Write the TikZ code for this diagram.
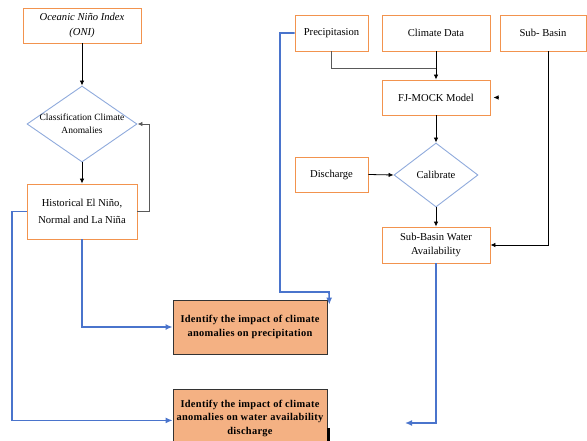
\documentclass[tikz,border=0pt]{standalone}
\usepackage{fontspec}
\setmainfont{Liberation Serif}
\usetikzlibrary{shapes.geometric,arrows.meta}
\definecolor{obord}{HTML}{F2934E}
\definecolor{ofill}{HTML}{F4B183}
\definecolor{bline}{HTML}{4A74CC}
\definecolor{dbord}{HTML}{8FAADC}
\tikzset{
  box/.style={draw=obord, line width=0.9pt, rectangle, inner sep=1pt, align=center, font=\fontsize{10.6}{13.5}\selectfont},
  idbox/.style={draw=black!80, fill=ofill, line width=0.8pt, rectangle, inner sep=1pt, align=center, font=\fontsize{10.4}{13.5}\selectfont\bfseries\addfontfeatures{LetterSpace=3}},
  dia/.style={draw=dbord, line width=0.9pt, diamond, inner sep=0pt},
  lbl/.style={align=center, font=\fontsize{10.6}{13.5}\selectfont},
  blk/.style={draw=black, line width=0.8pt, -{Latex[length=5pt,width=4.5pt]}},
  gry/.style={draw=black!65, line width=0.9pt},
  blu/.style={draw=bline, line width=1.6pt, -{Latex[length=7pt,width=6pt]}},
}
\begin{document}
\begin{tikzpicture}[x=1pt,y=-1pt]
\useasboundingbox (0,0) rectangle (587,441);
% left column
\node[box, minimum width=118pt, minimum height=35pt, font=\fontsize{10.6}{15}\selectfont] (oni) at (82,25.5) {\itshape Oceanic Niño Index\\\itshape (ONI)};
\node[dia, minimum width=110pt, minimum height=76pt] (cls) at (82,124) {};
\node[lbl, font=\fontsize{9.5}{13}\selectfont] (clst) at (cls) {Classification Climate\\Anomalies};
\node[box, minimum width=110pt, minimum height=55pt, font=\fontsize{10.6}{17}\selectfont] (hist) at (82,211.5) {Historical El Niño,\\Normal and La Niña};
\node[idbox, minimum width=154pt, minimum height=54pt] (id1) at (250,327) {Identify the impact of climate\\anomalies on precipitation};
\node[idbox, minimum width=154pt, minimum height=58pt, anchor=north] (id2) at (250,389) {Identify the impact of climate\\anomalies on water availability\\discharge};
\fill[black] (327,428) rectangle (330,441);
% right column
\node[box, minimum width=73pt, minimum height=36pt] (prec) at (331.5,33) {Precipitasion};
\node[box, minimum width=108pt, minimum height=36pt] (clim) at (436,33) {Climate Data};
\node[box, minimum width=86pt, minimum height=36pt] (sb) at (543,33) {Sub- Basin};
\node[box, minimum width=108pt, minimum height=35pt] (fj) at (436,97.5) {FJ-MOCK Model};
\node[dia, minimum width=84pt, minimum height=64pt] (cal) at (436,175) {};
\node[lbl] (calt) at (cal) {Calibrate};
\node[box, minimum width=73pt, minimum height=35pt] (dis) at (331.5,174.5) {Discharge};
\node[box, minimum width=108pt, minimum height=36pt] (sbw) at (436,245) {Sub-Basin Water\\Availability};
% left connectors
\draw[blk] (oni) -- (cls.north);
\draw[blk] (cls.south) -- (hist.north);
\draw[gry, -{Latex[length=5pt,width=4.5pt]}] (hist.east) -- ++(12,0) |- (cls.east);
\draw[blu] (hist.west) -- (12,211.5) |- ([yshift=-2pt]id2.west);
\draw[blu] (hist.south) |- (id1.west);
% right connectors
\draw[blu] (prec.west) -- (280,33) -- (280,292) -- (329,292) -- ([xshift=2pt,yshift=-5pt]id1.north east);
\draw[gry] (prec.south) |- (436,68);
\draw[blk] (clim.south) -- (fj.north);
\coordinate (stray) at (497.5,97.5);
\draw[blk] (stray) -- ++(-4,0);
\draw[blk] (fj.south) -- (cal.north);
\draw[blk] (dis.east) -- (cal.west);
\draw[blk] (cal.south) -- (sbw.north);
\draw[blk] ([xshift=5pt]sb.south) |- (sbw.east);
\coordinate (bend) at (405,423);
\draw[blu] (sbw.south) |- (bend);
\end{tikzpicture}
\end{document}
